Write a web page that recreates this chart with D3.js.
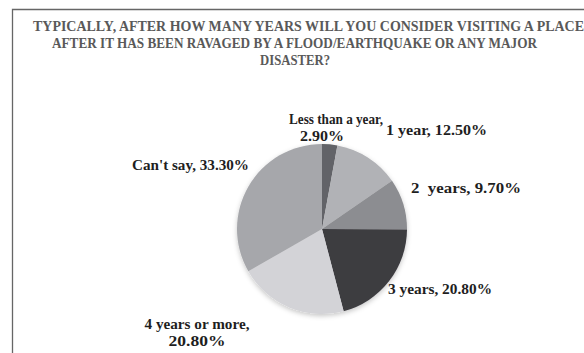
<!DOCTYPE html>
<html><head><meta charset="utf-8">
<script src="https://cdn.jsdelivr.net/npm/d3@7"></script>
<style>body{margin:0;background:#fff}svg{display:block}</style>
</head><body>
<script>
const titleLines = ["TYPICALLY, AFTER HOW MANY YEARS WILL YOU CONSIDER VISITING A PLACE",
  "AFTER IT HAS BEEN RAVAGED BY A FLOOD/EARTHQUAKE OR ANY MAJOR",
  "DISASTER?"];
const categories = ["Less than a year", "1 year", "2\u00a0 years", "3 years", "4 years or more", "Can't say"];
const values = [2.9, 12.5, 9.7, 20.8, 20.8, 33.3];
const valueLabels = ["2.90%", "12.50%", "9.70%", "20.80%", "20.80%", "33.30%"];
const colors = ["#626367", "#b1b2b6", "#8c8d91", "#3d3c41", "#d3d3d7", "#a6a7ab"];

const W = 584, H = 353;
const svg = d3.select("body").append("svg").attr("width", W).attr("height", H);
const defs = svg.append("defs");
const f = defs.append("filter").attr("id", "sh").attr("x", "-20%").attr("y", "-20%").attr("width", "140%").attr("height", "140%");
f.append("feDropShadow").attr("dx", 0).attr("dy", 2).attr("stdDeviation", 2.5).attr("flood-color", "#000").attr("flood-opacity", 0.22);

// frame (top and left edges visible)
svg.append("path").attr("d", `M12.5,${H} V9.5 H${W}`).attr("fill", "none").attr("stroke", "#666").attr("stroke-width", 1.3);

// title
const titleLayout = [{x: 33, y: 31, w: 551}, {x: 52, y: 48, w: 485}, {x: 260, y: 65, w: 70}];
const title = svg.append("g").attr("font-family", "Liberation Serif, serif").attr("font-weight", "bold")
  .attr("font-size", 14).attr("fill", "#595959");
title.selectAll("text").data(titleLines).join("text")
  .attr("x", (d, i) => titleLayout[i].x).attr("y", (d, i) => titleLayout[i].y)
  .attr("textLength", (d, i) => titleLayout[i].w).attr("lengthAdjust", "spacingAndGlyphs")
  .text(d => d);

const cx = 322, cy = 229, r = 85;
const pie = d3.pie().sort(null).value(d => d)(values);
const arc = d3.arc().innerRadius(0).outerRadius(r);
const g = svg.append("g").attr("transform", `translate(${cx},${cy})`);
g.append("g").attr("filter", "url(#sh)").selectAll("path").data(pie).join("path")
  .attr("d", arc).attr("fill", (d, i) => colors[i]);

// label layout (positions relative to chart, not data)
const labelLayout = [
  {x: 336, y: 124, lines: 2, anchor: "middle", x2: 322, w: 94, w2: 44},
  {x: 386, y: 135, lines: 1, anchor: "start", w: 101},
  {x: 411, y: 193, lines: 1, anchor: "start", w: 110},
  {x: 388, y: 294, lines: 1, anchor: "start", w: 104},
  {x: 197, y: 329, lines: 2, anchor: "middle", x2: 197, w: 105, w2: 57},
  {x: 249, y: 170, lines: 1, anchor: "end", w: 117}
];
const lg = svg.append("g").attr("font-family", "Liberation Serif, serif").attr("font-weight", "bold")
  .attr("font-size", 15).attr("fill", "#1e1e1e");
categories.forEach((c, i) => {
  const L = labelLayout[i];
  if (L.lines === 2) {
    lg.append("text").attr("x", L.x).attr("y", L.y).attr("text-anchor", L.anchor)
      .attr("textLength", L.w).attr("lengthAdjust", "spacingAndGlyphs").text(c + ",");
    lg.append("text").attr("x", L.x2).attr("y", L.y + 17).attr("text-anchor", L.anchor)
      .attr("textLength", L.w2).attr("lengthAdjust", "spacingAndGlyphs").text(valueLabels[i]);
  } else {
    lg.append("text").attr("x", L.x).attr("y", L.y).attr("text-anchor", L.anchor)
      .attr("textLength", L.w).attr("lengthAdjust", "spacingAndGlyphs").text(c + ", " + valueLabels[i]);
  }
});
</script>
</body></html>
